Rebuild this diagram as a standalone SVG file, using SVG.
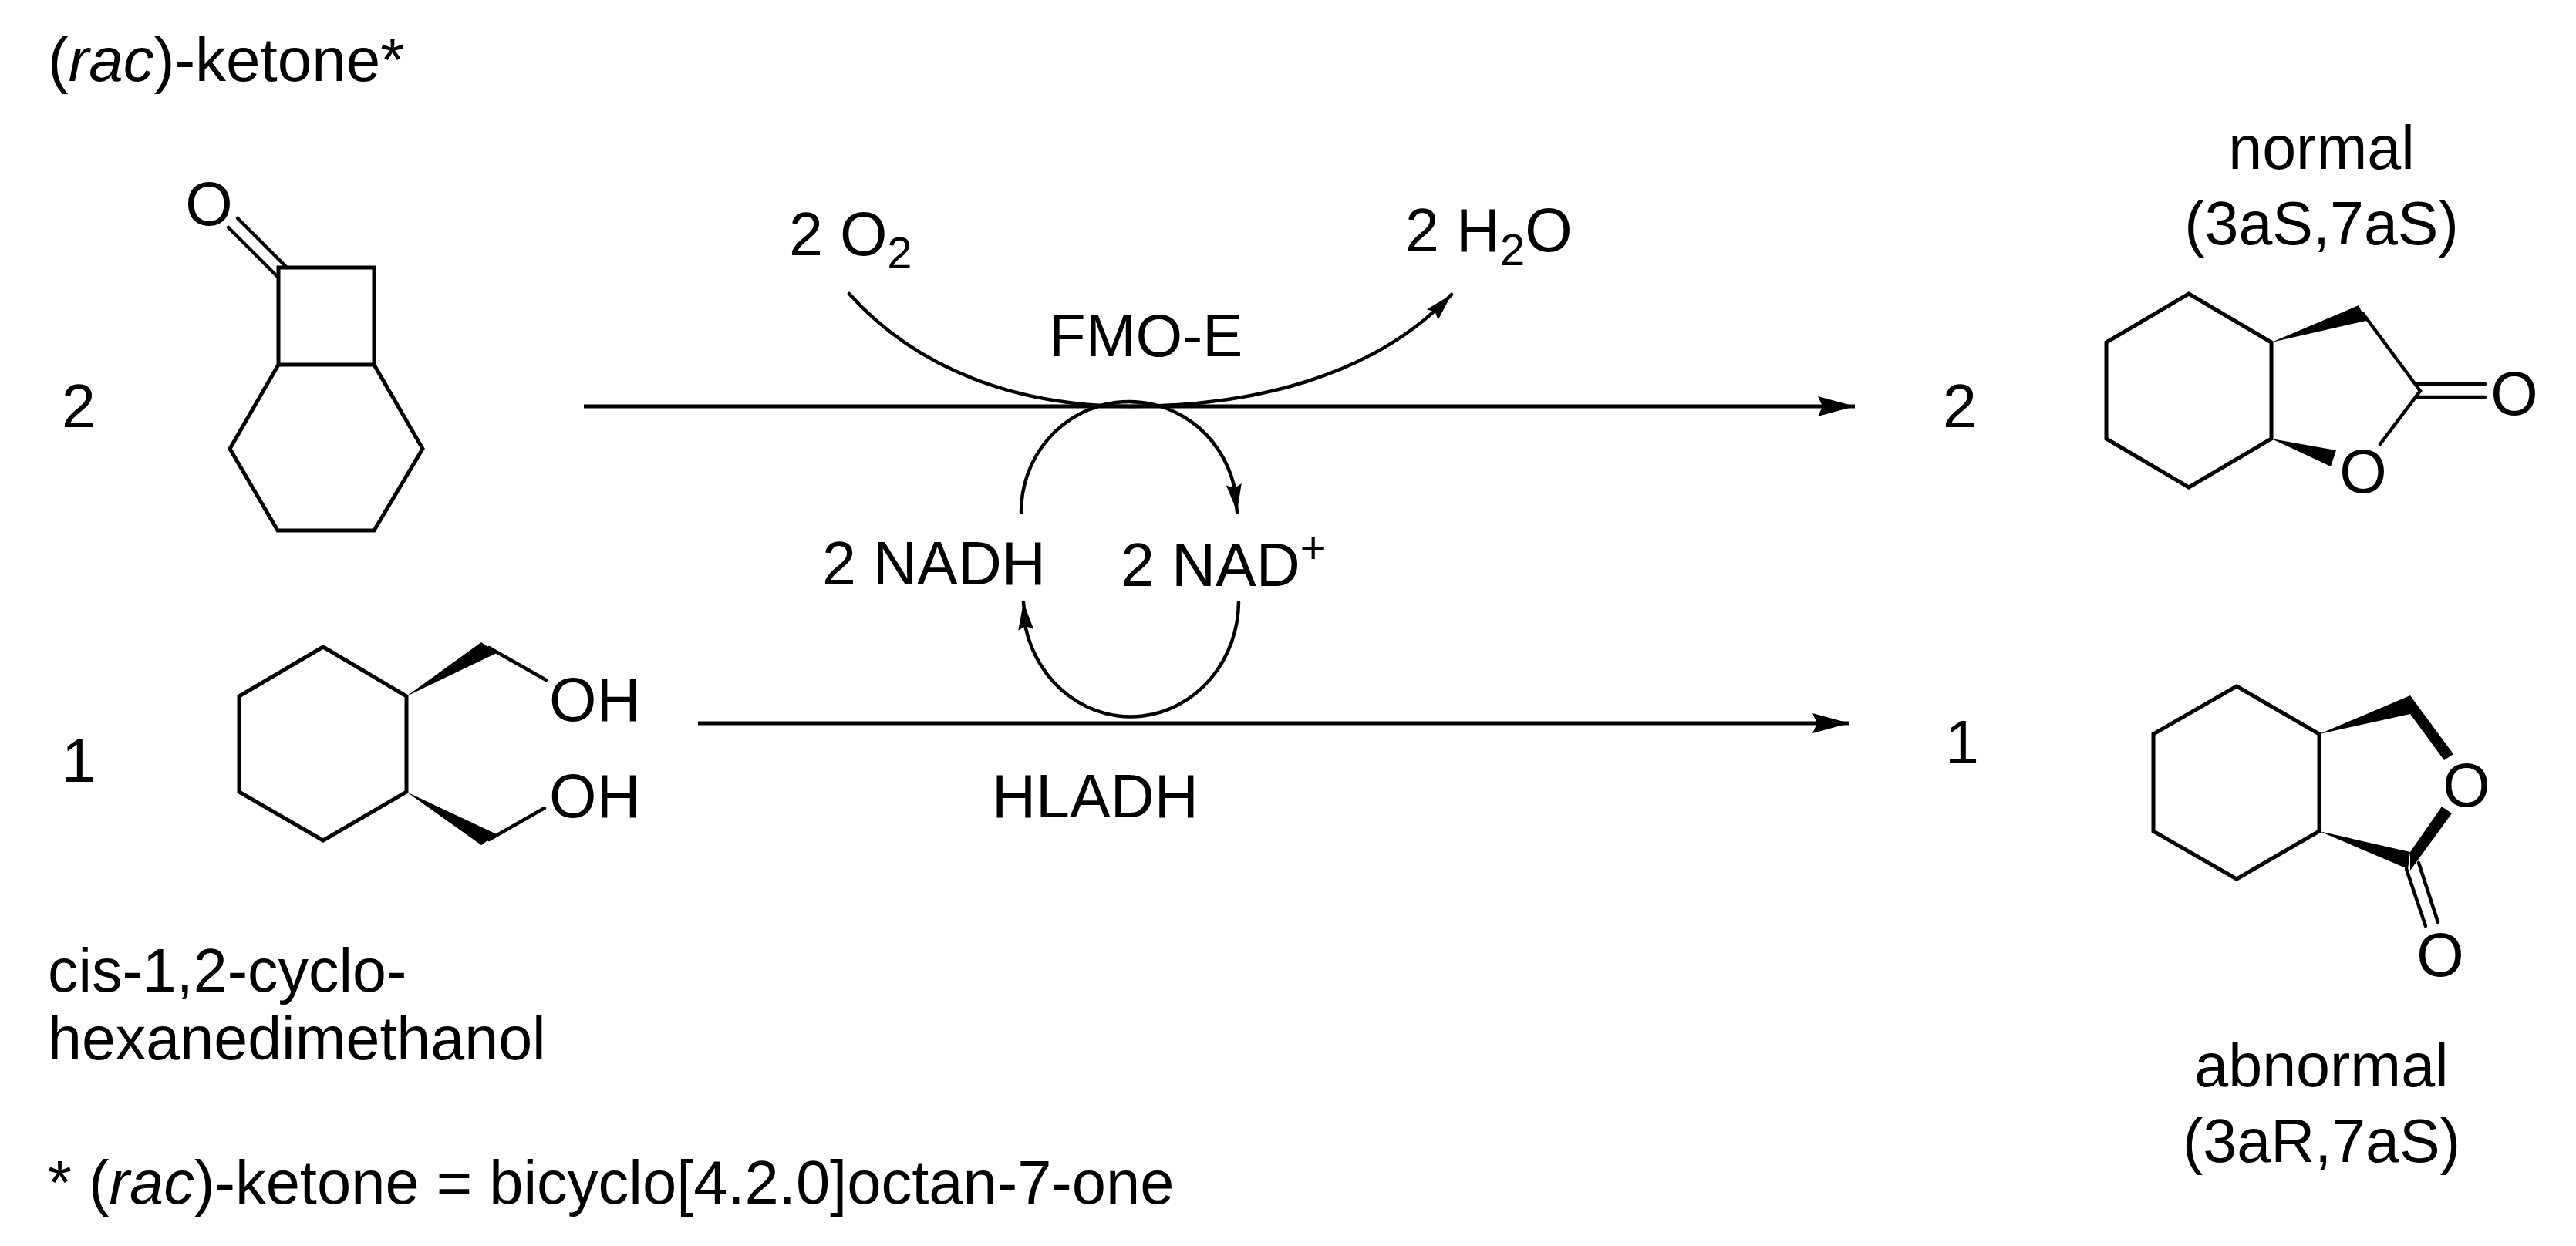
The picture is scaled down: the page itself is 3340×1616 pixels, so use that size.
<svg xmlns="http://www.w3.org/2000/svg" width="3340" height="1616" viewBox="0 0 3340 1616">
<style>
text{font-family:"Liberation Sans",Arial,sans-serif;font-size:79px;fill:#000}
.b{fill:none;stroke:#000;stroke-width:5;stroke-linejoin:miter;stroke-linecap:round}
.c{fill:none;stroke:#000;stroke-width:4.5;stroke-linecap:round}
.l{fill:none;stroke:#000;stroke-width:5}
.w{fill:#000;stroke:none}
.m{text-anchor:middle}
</style>
<defs>
<marker id="ah" markerUnits="userSpaceOnUse" markerWidth="50" markerHeight="30" refX="48" refY="15" orient="auto"><path d="M0 2L48 15L0 28L6 15Z" fill="#000"/></marker>
<marker id="as" markerUnits="userSpaceOnUse" markerWidth="40" markerHeight="24" refX="36" refY="12" orient="auto"><path d="M0 2L36 12L0 22L5 12Z" fill="#000"/></marker>
</defs>
<rect width="3340" height="1616" fill="#fff"/>
<g id="connectors">
<path class="l" d="M757 527H2405" marker-end="url(#ah)"/>
<path class="l" d="M905 938H2398" marker-end="url(#ah)"/>
<path class="c" d="M1101 381C1190 480 1320 527 1466 527C1620 527 1780 490 1882 382" marker-end="url(#as)"/>
<path class="c" d="M1324 665A140 143 0 0 1 1600 630L1604 664" marker-end="url(#as)"/>
<path class="c" d="M1606 781A140 150 0 0 1 1330 815L1327 781" marker-end="url(#as)"/>
</g>
<g id="ketone">
<path class="b" d="M361 347H485V473H361ZM361 473L298 582L360 688H485L548 582L485 473"/>
<path class="c" d="M296 295L360 359M308 283L372 347"/>
<text x="271" y="292" class="m">O</text>
</g>
<g id="diol">
<path class="b" d="M527 903L419 839L310 903V1027L419 1090L527 1027Z"/>
<path class="w" d="M527 903L624 833L644 847ZM527 1027L644 1082L624 1096Z"/>
<path class="c" d="M634 840L708 882M634 1089L706 1048"/>
<text x="712" y="935">OH</text>
<text x="712" y="1060">OH</text>
</g>
<g id="normal-lactone">
<path class="b" d="M2945 444L2838 381L2731 444V569L2838 632L2945 569Z"/>
<path class="w" d="M2945 444L3058 396L3068 416ZM2945 569L3029 584L3022 605Z"/>
<path class="c" d="M3064 407L3138 507L3086 576M3133 498H3222M3133 515H3222"/>
<text x="3260" y="538" class="m">O</text>
<text x="3064" y="639" class="m">O</text>
</g>
<g id="abnormal-lactone">
<path class="b" d="M3007 952L2900 890L2792 952V1078L2900 1140L3007 1078Z"/>
<path class="w" d="M3007 952L3125 902V926ZM3125 902L3181 978L3169 986L3125 926ZM3007 1078L3125 1105L3122 1127ZM3166 1046L3179 1055L3125 1129V1105Z"/>
<path class="c" d="M3120 1127L3145 1201M3136 1119L3161 1196"/>
<text x="3198" y="1046" class="m">O</text>
<text x="3164" y="1266" class="m">O</text>
</g>
<g id="labels">
<text x="62" y="105" font-size="80" style="font-size:80px">(<tspan font-style="italic">rac</tspan>)-ketone*</text>
<text x="80" y="554">2</text>
<text x="80" y="1014">1</text>
<text x="2519" y="554">2</text>
<text x="2522" y="990">1</text>
<text x="1023" y="331">2 O<tspan style="font-size:58px" dy="17">2</tspan></text>
<text x="1822" y="326">2 H<tspan style="font-size:58px" dy="18">2</tspan><tspan dy="-18">O</tspan></text>
<text x="1360" y="462" style="font-size:78px">FMO-E</text>
<text x="1066" y="758">2 NADH</text>
<text x="1453" y="760">2 NAD<tspan style="font-size:58px" dy="-30">+</tspan></text>
<text x="1286" y="1060">HLADH</text>
<text x="3010" y="219" class="m">normal</text>
<text x="3010" y="317" class="m">(3aS,7aS)</text>
<text x="3010" y="1409" class="m">abnormal</text>
<text x="3010" y="1507" class="m">(3aR,7aS)</text>
<text x="62" y="1286">cis-1,2-cyclo-</text>
<text x="62" y="1374">hexanedimethanol</text>
<text x="62" y="1561" style="font-size:79.5px">* (<tspan font-style="italic">rac</tspan>)-ketone = bicyclo[4.2.0]octan-7-one</text>
</g>
</svg>
